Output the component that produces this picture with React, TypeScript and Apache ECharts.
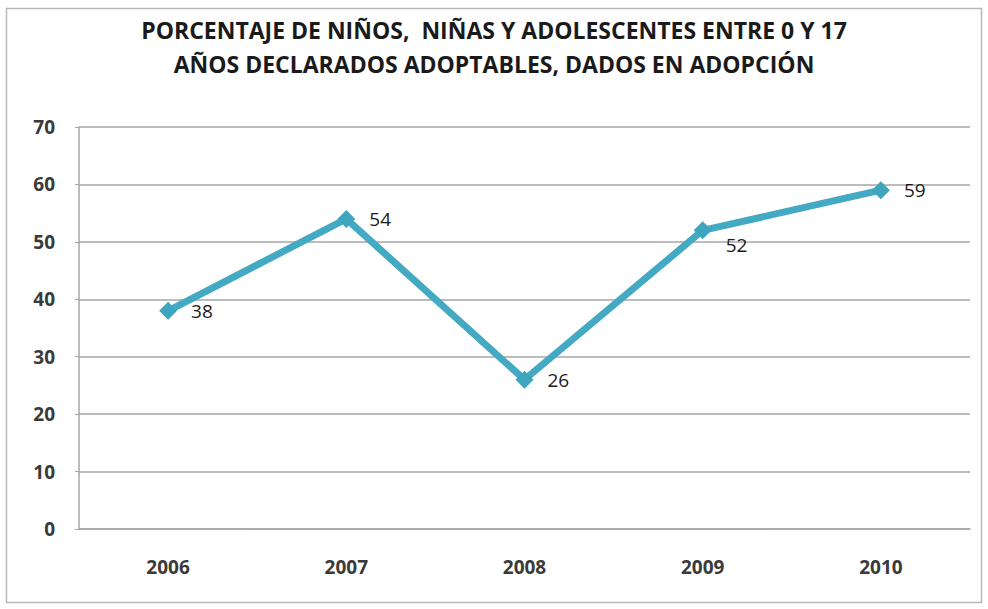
import React, { useEffect, useRef } from "react";
import * as echarts from "echarts";

const years = ["2006", "2007", "2008", "2009", "2010"];
const values = [38, 54, 26, 52, 59];
const titleLines = [
  "PORCENTAJE DE NIÑOS,  NIÑAS Y ADOLESCENTES ENTRE 0 Y 17",
  "AÑOS DECLARADOS ADOPTABLES, DADOS EN ADOPCIÓN",
];

export default function App() {
  const ref = useRef<HTMLDivElement>(null);
  useEffect(() => {
    if (!ref.current) return;
    const chart = echarts.init(ref.current, null, { renderer: "svg" });
    const font = "'Open Sans', 'Liberation Sans', sans-serif";
    chart.setOption({
      animation: false,
      backgroundColor: "#ffffff",
      title: {
        text: titleLines.join("\n"),
        left: "center",
        top: 8,
        textStyle: {
          fontFamily: font,
          fontWeight: "bold",
          fontSize: 23,
          lineHeight: 34,
          color: "#1a1a1a",
        },
      },
      graphic: [
        {
          type: "rect",
          shape: { x: 6.5, y: 8.5, width: 975, height: 594 },
          style: { fill: "none", stroke: "#b8b8b8", lineWidth: 1.5 },
          z: -1,
        },
      ],
      grid: { left: 79, right: 18, top: 127, bottom: 80, containLabel: false },
      xAxis: {
        type: "category",
        data: years,
        boundaryGap: true,
        axisLine: { show: true, lineStyle: { color: "#a6a6a6", width: 1.5 } },
        axisTick: { show: false },
        axisLabel: {
          margin: 28,
          fontFamily: font,
          fontWeight: "bold",
          fontSize: 19,
          color: "#3a3a3a",
        },
      },
      yAxis: {
        type: "value",
        min: 0,
        max: 70,
        interval: 10,
        axisLine: { show: true, lineStyle: { color: "#a6a6a6", width: 1.5 } },
        axisTick: { show: true, length: 4, lineStyle: { color: "#a6a6a6" } },
        axisLabel: {
          margin: 24,
          fontFamily: font,
          fontWeight: "bold",
          fontSize: 19,
          color: "#3a3a3a",
        },
        splitLine: { show: true, lineStyle: { color: "#a6a6a6", width: 1.5 } },
      },
      series: [
        {
          type: "line",
          data: values.map((v, i) =>
            i === 3
              ? { value: v, label: { offset: [0, 15] } }
              : { value: v }
          ),
          symbol: "diamond",
          symbolSize: 18,
          lineStyle: { color: "#44a9c2", width: 7 },
          itemStyle: { color: "#3fa5bf" },
          label: {
            show: true,
            position: "right",
            distance: 14,
            fontFamily: font,
            fontSize: 19,
            color: "#1a1a1a",
          },
        },
      ],
    });
    return () => chart.dispose();
  }, []);
  return (
    <div
      ref={ref}
      style={{ position: "absolute", left: 0, top: 0, width: 988, height: 609 }}
    />
  );
}
